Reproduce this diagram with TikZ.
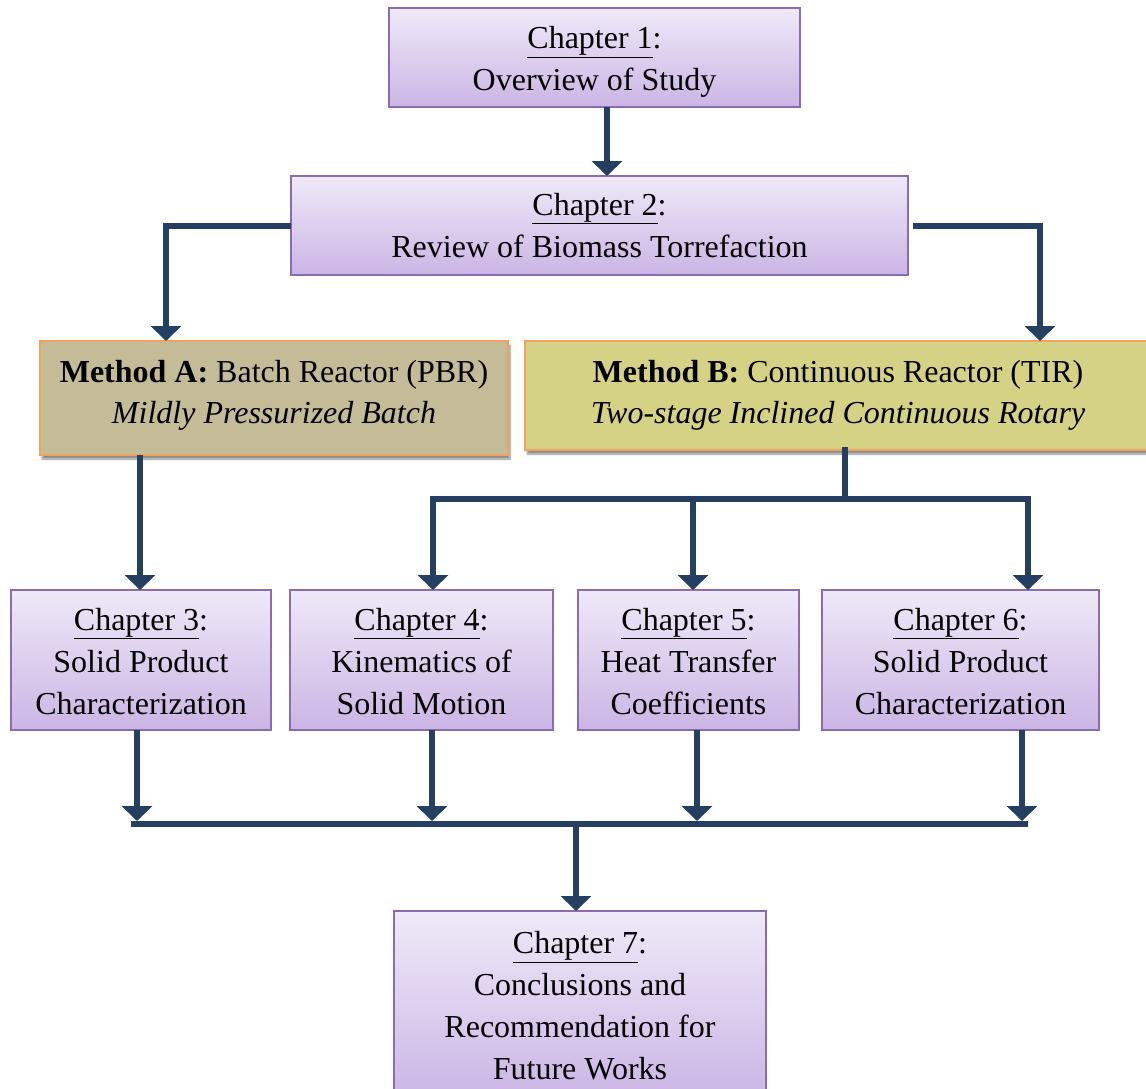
\documentclass[tikz,border=0pt]{standalone}
\usepackage{fontspec}
\setmainfont{Liberation Serif}
\usetikzlibrary{arrows.meta,shadows.blur}
\definecolor{chtop}{HTML}{EFE9F8}
\definecolor{chbot}{HTML}{CBB5E5}
\definecolor{chborder}{HTML}{8B6DAF}
\definecolor{mafill}{HTML}{C4BC96}
\definecolor{mbfill}{HTML}{D6D285}
\definecolor{morange}{HTML}{F2A15E}
\definecolor{navy}{HTML}{243F62}
\newcommand{\dnstrut}[1]{\rule{0pt}{#1}}
\tikzset{
  chap/.style={draw=chborder, line width=1.5pt, top color=chtop, bottom color=chbot,
    align=center, inner sep=0pt, outer sep=0pt, font=\fontsize{32}{42}\selectfont},
  meth/.style={draw=morange, line width=1.6pt, align=center, inner sep=0pt, outer sep=0pt,
    font=\fontsize{32}{41}\selectfont,
    blur shadow={shadow xshift=2pt, shadow yshift=-4pt, shadow blur steps=6, shadow opacity=45}},
  conn/.style={draw=navy, line width=6pt, line join=miter,
    -{Triangle[width=30pt,length=15pt]}},
  bus/.style={draw=navy, line width=6pt, line cap=rect},
}
\begin{document}
\begin{tikzpicture}[x=1pt,y=-1pt]
\useasboundingbox (0,0) rectangle (1146,1088);
% nodes
\node[chap, minimum width=411pt, minimum height=99pt] (ch1) at (594.5,57.5)
  {\dnstrut{31pt}\underline{Chapter 1}:\\Overview of Study};
\node[chap, minimum width=617pt, minimum height=99pt] (ch2) at (599.5,225.5)
  {\underline{Chapter 2}:\\Review of Biomass Torrefaction};
\node[meth, fill=mafill, minimum width=468pt, minimum height=114pt] (ma) at (274,398)
  {\textbf{Method A:} Batch Reactor (PBR)\\\textit{Mildly Pressurized Batch}\rule[-13pt]{0pt}{0pt}};
\node[meth, fill=mbfill, minimum width=626pt, minimum height=109pt] (mb) at (838,395.5)
  {\textbf{Method B:} Continuous Reactor (TIR)\\\textit{Two-stage Inclined Continuous Rotary}};
\node[chap, minimum width=260pt, minimum height=140pt] (ch3) at (141,660)
  {\dnstrut{25pt}\underline{Chapter 3}:\\Solid Product\\Characterization};
\node[chap, minimum width=263pt, minimum height=140pt] (ch4) at (421.5,660)
  {\dnstrut{25pt}\underline{Chapter 4}:\\Kinematics of\\Solid Motion};
\node[chap, minimum width=221pt, minimum height=140pt] (ch5) at (688.5,660)
  {\dnstrut{25pt}\underline{Chapter 5}:\\Heat Transfer\\Coefficients};
\node[chap, minimum width=277pt, minimum height=140pt] (ch6) at (960.5,660)
  {\dnstrut{25pt}\underline{Chapter 6}:\\Solid Product\\Characterization};
\node[chap, minimum width=372pt, minimum height=190pt] (ch7) at (580,1006)
  {\underline{Chapter 7}:\\Conclusions and\\Recommendation for\\Future Works};
% bus coordinates
\coordinate (bb) at (845,499);
\coordinate (busL) at (134,824);
\coordinate (busR) at (1025,824);
\coordinate (busM) at (576,824);
% connectors
\draw[conn] ([xshift=12.5pt]ch1.south) -- ([xshift=12.5pt]ch1.south |- ch2.north);
\draw[conn] (ch2.west) -| ([xshift=-108pt]ma.north);
\draw[conn] ([xshift=5pt]ch2.east) -| ([xshift=202pt]mb.north);
\draw[conn] ([xshift=-134pt]ma.south) -- ([xshift=-134pt]ma.south |- ch3.north);
\draw[bus] ([xshift=7pt]mb.south) -- (bb);
\draw[conn] (bb) -| ([xshift=11.5pt]ch4.north);
\draw[conn] (bb) -| ([xshift=67.5pt]ch6.north);
\draw[conn] (bb -| ch5.north) ++(4.5,0) -- ([xshift=4.5pt]ch5.north);
\draw[bus] (busL) -- (busR);
\draw[conn] ([xshift=-4pt]ch3.south) -- ([xshift=-4pt]ch3.south |- 0,821);
\draw[conn] ([xshift=10.5pt]ch4.south) -- ([xshift=10.5pt]ch4.south |- 0,821);
\draw[conn] ([xshift=8.5pt]ch5.south) -- ([xshift=8.5pt]ch5.south |- 0,821);
\draw[conn] ([xshift=61.5pt]ch6.south) -- ([xshift=61.5pt]ch6.south |- 0,821);
\draw[conn] (busM) -- (busM |- ch7.north);
\end{tikzpicture}
\end{document}
